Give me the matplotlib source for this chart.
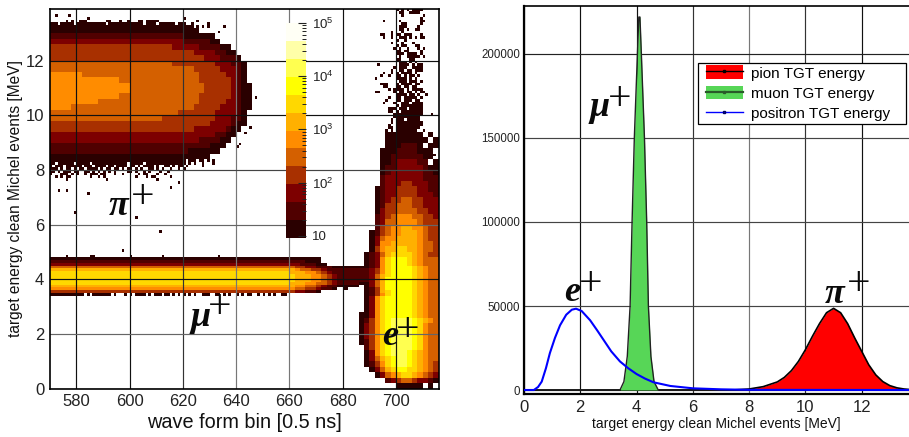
import numpy as np
import matplotlib
matplotlib.use("Agg")
import matplotlib.pyplot as plt
from matplotlib.colors import ListedColormap, LogNorm
from matplotlib.lines import Line2D
from matplotlib.patches import Patch, Rectangle
from matplotlib.legend_handler import HandlerTuple
from matplotlib.ticker import FuncFormatter, LogLocator, NullFormatter

plt.rcParams['font.family'] = ['Liberation Sans', 'DejaVu Sans']
plt.rcParams['mathtext.default'] = 'regular'

# ---------- left panel: 2D histogram, colour level per bin ----------
level_colors = ['#2a0000', '#500000', '#7d0000', '#a83000', '#d46000', '#ff8c00',
                '#ffb000', '#ffd800', '#ffff00', '#ffff50', '#ffffa8', '#fffff5']
count_min, count_max = 9.05, 1e5

# "level:end_column" runs, columns 2 bins wide from 570 to 680
left_rows = ([""] * 4 + [
    "1:28", "2:25 1:31", "3:25 2:30 1:32", "4:23 3:28 2:32 1:34", "4:27 3:31 2:33 1:35",
    "4:29 3:32 2:35 1:36", "5:23 4:31 3:34 2:36 1:37", "5:27 4:32 3:35 2:36 1:37",
    "6:6 5:28 4:33 3:35 2:36 1:37", "6:13 5:28 4:34 3:35 2:36 1:37",
    "6:15 5:29 4:34 3:35 2:36 1:38", "6:15 5:29 4:34 3:35 2:36 1:38",
    "6:13 5:28 4:34 3:35 2:36 1:38", "6:9 5:28 4:33 3:35 2:36 1:38",
    "6:4 5:27 4:32 3:35 2:36 1:38", "5:24 4:31 3:35 2:36 1:37", "5:21 4:31 3:34 2:36 1:37",
    "4:30 3:34 2:35 1:37", "4:27 3:33 2:34 1:36", "3:31 2:33 1:35", "3:28 2:32 1:34",
    "2:30 1:33", "2:26 1:32", "1:30"] + [""] * 18 + [
    "1:51", "2:48 1:51", "3:47 2:50 1:52", "5:46 4:48 3:50 2:53 1:55",
    "7:46 6:47 5:49 4:51 3:52 2:55", "8:45 7:48 6:50 5:51 4:52 3:53 2:55",
    "8:46 7:49 6:51 5:52 4:53 3:54 2:55", "8:46 7:49 6:51 5:52 4:53 3:54 2:55",
    "8:46 7:49 6:51 5:52 4:53 3:54 2:55", "8:45 7:48 6:50 5:52 4:53 3:54 2:55",
    "7:46 6:48 5:50 4:51 3:52 2:54 1:55", "6:46 5:48 4:50 3:51 2:53 1:54",
    "4:46 3:48 2:50 1:51", ""] + [""] * 17)

# one character per column, columns 2 bins wide from 680 to 716
right_rows = [""] * 23 + [
    "........1111111.1.", "........11111111.1", "........1112221.11", ".......1112222111.",
    ".......1122222211.", ".......112333322.1", ".......12233333211", ".......12333333221",
    ".......23333333222", ".......23334433322", "......123344443322", "......123344443332",
    "......123445544333", "......124455544333", "......134455554433", "......234566655443",
    "......235566665444", "......245667766544", ".....1245667776544", ".....1356677776544",
    ".....1366777776554", ".....1467788776554", "....12357888876544",
    "....12368999876555", "....12368999876555", "....12368999876555",
    "111112368999987655", "222223468999987655", "222223468999987655",
    "222223578999987655", "222223579999987655", "222223579999987655", "222113579999987655",
    "111.13579999987655", "1...12479999987655", "....12478999987655", "....12468999987655",
    "....13689999987655", "....13689999987655", "....13689999987655", "...113689999987655",
    "...12468" + "9aaaa98765", "...13468" + "9aaaa98655", "...13468" + "9aaaa98655",
    "...13468" + "9aaaa98655", "...12468" + "9aaaa98655", "....2468" + "9aaaa98655",
    "....1368" + "9aaa987655", "....1357" + "89aa987655", "....1246" + "89aa987654",
    ".....135" + "7899887654", "......135678876543", "........2345543321",
    "..........11111.1."]
row_bins = [2] * 46 + [1] * 14 + [2] * 17

# sparse bin-by-bin patches: one character per 1-bin x 0.1 MeV cell
pion_top = [
    "..1....1.............................................................",
    "..............1...................................1...................",
    "......1.1..111.......11...1..1...11..1111..............1.............",
    "111.11111.11111111111.1111111111111.1111.111111.111..1.....1.........",
    "111111111111111111111111111111111111111111111111111111.1...1.....1...",
]
pion_bottom = [
    "111111111111111111111111111111111111111111111111111.111.11.1.1",
    "11.111111.11111.1111111111111.11111.111111111111111.1.1..1...1",
    "1.111.111111.111.1111.11.1111.11.1.1111.1..11.1.11.1.....1..",
    "111.1.11.1.11.1111.1.11.11.1.11.1.1..11.1.1..1..1.1",
    "11.1.111.11..11.1.1.1.1.1....11.1..1.1...1..1..",
    "1...111.1.1..1.111.11...1..1.....1.11...1..1",
    "..1.1.11.......1..1.1...........1...1.11.....1",
    "......1..............1..................1.....",
]
mu_bottom = [
    "1111111111111.1.1111111.1...1.1.1111.1.111.11.1.1.1.1.1..111..11.1.1..1.1.11..1.1.1.1..11",
]
tail = [
    "...........1..111111", "..........1.1.1.1111", "...........11..1111.", "............1.......1",
    "...................1", ".....1.....1.......11", "............11.....1.", "...........111....1",
    "...........11.1..11", "........1...1........", "....11..1.11.111...1", ".....1..1..111.1.1.11",
    "..........1..1......", "........1...1...1...", "..........1.11...11.", ".........1.1..1...1.1",
    "..........11.11....1", "..........111.1111.1", "...........1..11111.1", "..........11...11..",
    "...........111.1.1", "...1.......1111.1.11", ".........1.111..1111", "........1..11.11.111",
    ".....1..1.1.1111.1.", "....1..1..11.1.11.1", "..1.......1111.1.1..", "...........111.111.1",
    "....111...1.1111.11.", ".....11...11.11.11...........1", ".......1.1111.1.1111", "..11.....1.11.11.1.11",
    "..........1111.11.1..1", ".......1..11.11111.1", "......1...11.111.11", ".....1...1..111.1111",
    "..........1.11111111", ".......111.111.11111", ".......11.1.11111111..", ".........11111111111...1",
    ".........1111111111", "........1.111.11111", "........1.1111111111", ".......1..1111111111",
    ".......11.111111111", "......1.1.11111111..1",
]
speck_bin = [573, 576, 584, 579, 615, 602, 611, 597, 618, 576, 585, 586, 600, 612, 633,
             643, 644, 643, 643, 645, 643, 640, 627, 633, 606, 641, 647, 712, 714]
speck_mev = [7.3, 7.3, 7.15, 6.5, 7.35, 6.3, 5.77, 5.07, 7.6, 4.85, 4.85, 4.85, 4.85, 4.85, 4.85,
             11.2, 10.5, 10.0, 9.7, 9.6, 9.3, 8.9, 13.25, 13.05, 13.5, 9.0, 10.7, 8.8, 8.6]

# ---------- right panel: spectra ----------
pion_e = [0, 7.5, 8, 8.5, 9, 9.25, 9.5, 9.75, 10, 10.25, 10.5, 10.75, 11, 11.25, 11.5, 11.75,
          12, 12.25, 12.5, 12.75, 13, 13.25, 13.5, 13.7]
pion_n = [0, 100, 600, 2000, 4800, 7500, 11500, 17000, 24000, 32000, 39500, 46000, 48600, 46000,
          39500, 31000, 23000, 15000, 9000, 5000, 2600, 1300, 600, 300]
muon_e = [0, 3.41, 3.55, 3.67, 3.77, 3.84, 3.92, 4.03, 4.08, 4.12, 4.17, 4.28, 4.36, 4.42, 4.51,
          4.62, 4.77, 13.7]
muon_n = [0, 0, 5000, 20000, 50000, 100000, 150000, 200000, 222000, 222000, 200000, 150000,
          100000, 50000, 20000, 5000, 0, 0]
positron_e = [0, 0.35, 0.5, 0.63, 0.78, 0.92, 1.1, 1.28, 1.5, 1.7, 1.85, 2.05, 2.35, 2.6, 2.82,
              3.1, 3.41, 3.7, 4.0, 4.3, 4.6, 5.2, 6, 7, 8, 13.7]
positron_n = [0, 0, 1800, 5000, 13000, 22000, 31000, 38500, 44800, 47800, 48400, 47000, 41500,
              35500, 30000, 23000, 17000, 13000, 9500, 6800, 4600, 2400, 1000, 400, 100, 0]

bin_ticks = [580, 600, 620, 640, 660, 680, 700]
mev_ticks = [0, 2, 4, 6, 8, 10, 12]
count_ticks = [0, 50000, 100000, 150000, 200000]

W, H = 909, 437


def rect(left, top, right, bottom):
    return [left / W, 1 - bottom / H, (right - left) / W, (bottom - top) / H]


# assemble the bins
Z = np.zeros((140, 146), dtype=int)
row = 0
for text_l, text_r, nbins in zip(left_rows, right_rows, row_bins):
    levels = np.zeros(73, dtype=int)
    start = 0
    for token in text_l.split():
        lev, end = token.split(':')
        levels[start:int(end)] = int(lev)
        start = int(end)
    for j, ch in enumerate(text_r[:18]):
        if ch != '.':
            levels[55 + j] = int(ch, 16)
    Z[row:row + nbins] = np.repeat(levels, 2)
    row += nbins


def overlay(rows, x0, y_top):
    i0 = int(round((14 - y_top) * 10))
    for r, text in enumerate(rows):
        for c, ch in enumerate(text):
            if ch != '.' and x0 - 570 + c < 146:
                Z[i0 + r, x0 - 570 + c] = int(ch, 16)


overlay(pion_top, 570, 13.7)
overlay(pion_bottom, 570, 8.4)
overlay(mu_bottom, 570, 3.5)
overlay(tail, 690, 14.0)
for b, m in zip(speck_bin, speck_mev):
    Z[int((14 - m) * 10), b - 570] = 1

log_min, log_max = np.log10(count_min), np.log10(count_max)
step = (log_max - log_min) / len(level_colors)
counts = np.where(Z > 0, 10 ** (log_min + (Z - 0.5) * step), np.nan)

fig = plt.figure(figsize=(W / 100, H / 100), dpi=100)
ax1 = fig.add_axes(rect(49.7, 9, 438.6, 388.6))
cmap = ListedColormap(level_colors)
cmap.set_bad('white')
norm = LogNorm(vmin=count_min, vmax=count_max)
x_edges = np.arange(570, 717)
y_edges = np.linspace(14, 0, 141)
mesh = ax1.pcolormesh(x_edges, y_edges, np.ma.masked_invalid(counts), cmap=cmap, norm=norm,
                      linewidth=0, rasterized=True)
ax1.set_xlim(570, 716)
ax1.set_ylim(0, 13.89)
ax1.set_xticks(bin_ticks)
ax1.set_yticks(mev_ticks)
ax1.set_axisbelow(False)
ax1.grid(True, color='black', lw=0.85)
for line, col in zip(ax1.xaxis.get_gridlines(), ['#111', '#111', '#333', '#777', '#777', '#111', '#111']):
    line.set_color(col)
for line, col in zip(ax1.yaxis.get_gridlines(), ['#111', '#666', '#111', '#666', '#444', '#111', '#111']):
    line.set_color(col)
ax1.tick_params(length=0, labelsize=12, pad=4, colors='#222')
ax1.set_xlabel('wave form bin [0.5 ns]', fontsize=14.3, labelpad=3, color='#111')
ax1.set_ylabel('target energy clean Michel events [MeV]', fontsize=11.2, labelpad=1.5, color='#111')
for s in ax1.spines.values():
    s.set_linewidth(1.2)
    s.set_zorder(5)

cax = fig.add_axes(rect(286, 22.7, 306, 238.3))
cb = fig.colorbar(mesh, cax=cax)
cb.outline.set_visible(False)
cax.yaxis.set_ticks_position('right')
cax.yaxis.set_major_locator(LogLocator(base=10))
cax.yaxis.set_minor_locator(LogLocator(base=10, subs=range(2, 10)))
cax.yaxis.set_minor_formatter(NullFormatter())
cax.yaxis.set_major_formatter(FuncFormatter(
    lambda v, p: '10' if abs(v - 10) < 1e-6 else '$10^{%d}$' % round(np.log10(v))))
cax.tick_params(which='major', direction='in', length=6, width=0.8, labelsize=9.5, pad=4, colors='#222')
cax.tick_params(which='minor', direction='in', length=3, width=0.7, colors='#222')

ax2 = fig.add_axes(rect(524, 6, 909, 394))
ax2.fill_between(pion_e, pion_n, color='#ff0000', lw=0, zorder=3, label='_')
ax2.plot(pion_e, pion_n, color='black', lw=1.2, zorder=3.1)
ax2.fill_between(muon_e, muon_n, color='#57d657', lw=0, zorder=3.2)
ax2.plot(muon_e, muon_n, color='#222222', lw=1.0, zorder=3.3)
ax2.plot(positron_e, positron_n, color='#0000ff', lw=1.5, zorder=3.4)
ax2.set_xlim(0, 13.68)
ax2.set_ylim(-2380, 228570)
ax2.set_xticks(mev_ticks)
ax2.set_yticks(count_ticks)
ax2.grid(True, color='#111', lw=0.85)
ax2.set_axisbelow(True)
for line, col in zip(ax2.xaxis.get_gridlines(), ['#111', '#111', '#111', '#333', '#777', '#333', '#111']):
    line.set_color(col)
for line, col in zip(ax2.yaxis.get_gridlines(), ['#111', '#444', '#444', '#444', '#222']):
    line.set_color(col)
ax2.tick_params(length=0, colors='#222')
ax2.tick_params(axis='x', labelsize=12, pad=4)
ax2.tick_params(axis='y', labelsize=8.3, pad=3)
ax2.set_xlabel('target energy clean Michel events [MeV]', fontsize=10, labelpad=1.5, color='#111')
ax2.spines['right'].set_visible(False)
ax2.spines['left'].set_linewidth(1.6)
ax2.spines['bottom'].set_linewidth(1.6)
ax2.spines['top'].set_linewidth(1.2)


def marker_handle(fill, line_color, lw):
    return (Patch(facecolor=fill, edgecolor='none'),
            Line2D([], [], color=line_color, lw=lw, marker='s', ms=1.5))


handles = [marker_handle('#ff0000', 'black', 1.0),
           marker_handle('#57d657', '#2a5a2a', 1.6),
           Line2D([], [], color='#0000ff', lw=1.0, marker='s', ms=1.5, mec='#000060')]
labels = ['pion TGT energy', 'muon TGT energy', 'positron TGT energy']
ax2.add_patch(Rectangle((698 / W, 1 - 124.3 / H), 208 / W, 61.3 / H, transform=fig.transFigure,
                        facecolor='white', edgecolor='black', lw=0.9, zorder=9, clip_on=False))
leg = ax2.legend(handles, labels, loc='upper left',
                 bbox_to_anchor=(703.5 / W, 1 - 63 / H), bbox_transform=fig.transFigure,
                 borderaxespad=0, fontsize=11, frameon=False,
                 handlelength=2.4, handleheight=1.0, handletextpad=0.55, labelspacing=0.34,
                 borderpad=0.16, handler_map={tuple: HandlerTuple(ndivide=1, pad=0)})
leg.set_zorder(10)


def particle(ax, letter, lx, ly, px, py):
    ax.text(lx, ly, letter, family=['Liberation Serif', 'DejaVu Serif'], style='italic', weight='bold',
            fontsize=26, ha='center', va='center', color='#0a0a0a', zorder=8)
    ax.text(px, py, '+', family=['Liberation Serif', 'DejaVu Serif'], fontsize=30,
            ha='center', va='center', color='#0a0a0a', zorder=8)


particle(ax1, 'π', 595.7, 6.68, 605, 7.0)
particle(ax1, 'μ', 626.5, 2.6, 633.8, 2.95)
particle(ax1, 'e', 697.7, 1.89, 704.5, 2.1)
particle(ax2, 'μ', 2.67, 168000, 3.41, 172600)
particle(ax2, 'e', 1.71, 58300, 2.35, 62600)
particle(ax2, 'π', 11.05, 57000, 11.9, 62600)

fig.savefig('out.png', dpi=100)
